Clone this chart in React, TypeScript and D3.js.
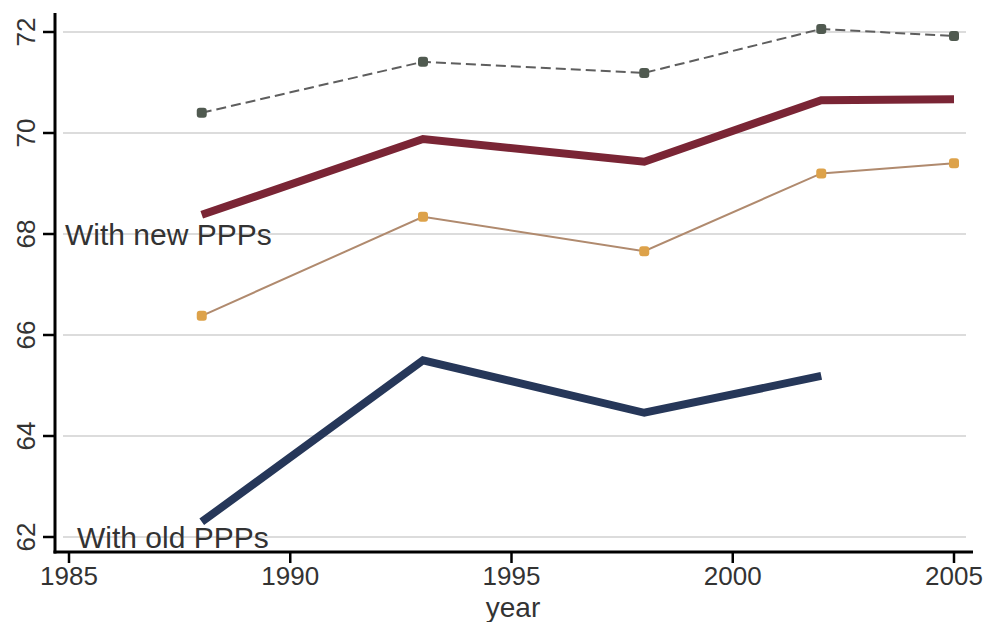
import React from 'react';
import * as d3 from 'd3';

const years = [1988, 1993, 1998, 2002, 2005];
const upperNew = [70.4, 71.41, 71.19, 72.06, 71.92];
const centralNew = [68.38, 69.88, 69.43, 70.65, 70.67];
const lowerNew = [66.38, 68.34, 67.66, 69.2, 69.4];
const centralOld = [62.3, 65.5, 64.46, 65.19];
const xTicks = [1985, 1990, 1995, 2000, 2005];
const yTicks = [62, 64, 66, 68, 70, 72];

const W = 990;
const H = 622;
const FONT = '"Liberation Sans", Arial, sans-serif';

export default function App() {
  const x = d3.scaleLinear().domain([1985, 2005]).range([69, 954]);
  const y = d3.scaleLinear().domain([62, 72]).range([537, 32]);

  const line = d3
    .line<[number, number]>()
    .x((d) => x(d[0]))
    .y((d) => y(d[1]));

  const pts = (vals: number[]) => vals.map((v, i) => [years[i], v] as [number, number]);

  const axisLeft = 55;
  const axisBottom = 552;

  return (
    <div style={{ position: 'absolute', left: 0, top: 0 }}>
      <svg width={W} height={H} style={{ display: 'block', background: '#fff' }} fontFamily={FONT}>
        {/* grid */}
        {yTicks.map((t) => (
          <line key={'g' + t} x1={63} x2={966} y1={y(t)} y2={y(t)} stroke="#dcdcdc" strokeWidth={2} />
        ))}

        {/* series */}
        <path d={line(pts(upperNew)) ?? ''} fill="none" stroke="#5e5e5e" strokeWidth={2} strokeDasharray="10,5" />
        {pts(upperNew).map((d, i) => (
          <rect key={'u' + i} x={x(d[0]) - 5} y={y(d[1]) - 5} width={10} height={10} rx={3} fill="#505a50" />
        ))}

        <path d={line(pts(lowerNew)) ?? ''} fill="none" stroke="#b08a6e" strokeWidth={2} />
        {pts(lowerNew).map((d, i) => (
          <rect key={'l' + i} x={x(d[0]) - 5} y={y(d[1]) - 5} width={10} height={10} rx={3} fill="#dda24a" />
        ))}

        <path d={line(pts(centralNew)) ?? ''} fill="none" stroke="#7a2535" strokeWidth={8} strokeLinejoin="miter" />

        <path d={line(pts(centralOld)) ?? ''} fill="none" stroke="#263759" strokeWidth={8} strokeLinejoin="miter" />

        {/* axes */}
        <line x1={axisLeft} x2={axisLeft} y1={13} y2={axisBottom + 1.5} stroke="#000" strokeWidth={3} />
        <line x1={axisLeft - 1.5} x2={973} y1={axisBottom} y2={axisBottom} stroke="#000" strokeWidth={3} />

        {yTicks.map((t) => (
          <g key={'y' + t}>
            <line x1={43} x2={axisLeft} y1={y(t)} y2={y(t)} stroke="#000" strokeWidth={2.5} />
            <text
              transform={`translate(35,${y(t)}) rotate(-90)`}
              textAnchor="middle"
              fontSize={26}
              fill="#333"
            >
              {t}
            </text>
          </g>
        ))}

        {xTicks.map((t) => (
          <g key={'x' + t}>
            <line x1={x(t)} x2={x(t)} y1={axisBottom} y2={563} stroke="#000" strokeWidth={2.5} />
            <text x={x(t)} y={585} textAnchor="middle" fontSize={26} fill="#333">
              {t}
            </text>
          </g>
        ))}

        <text x={513} y={617} textAnchor="middle" fontSize={28} fill="#333">
          year
        </text>

        {/* labels */}
        <text x={65} y={245} fontSize={30} fill="#333">
          With new PPPs
        </text>
        <text x={77} y={548} fontSize={30} fill="#333">
          With old PPPs
        </text>
      </svg>
    </div>
  );
}
